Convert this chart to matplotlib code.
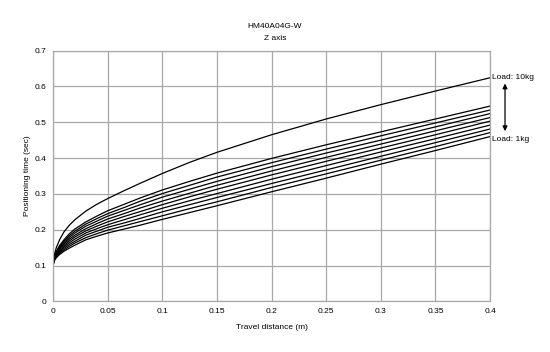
import matplotlib
matplotlib.use("Agg")
import matplotlib.pyplot as plt

plt.rcParams['font.family'] = ['Liberation Sans', 'DejaVu Sans']

# Travel distance (m)
khoang_cach = [0, 0.001, 0.003, 0.006, 0.01, 0.015, 0.02, 0.03, 0.04, 0.05,
               0.065, 0.08, 0.1, 0.125, 0.15, 0.2, 0.25, 0.3, 0.35, 0.4]

# Positioning time (sec) for each load
tai_1kg = [0.1, 0.113, 0.122, 0.131, 0.140, 0.149, 0.157, 0.172, 0.182, 0.191,
           0.202, 0.213, 0.229, 0.248, 0.267, 0.306, 0.344, 0.383, 0.421, 0.460]
tai_2kg = [0.1, 0.114, 0.124, 0.134, 0.144, 0.154, 0.163, 0.178, 0.189, 0.199,
           0.211, 0.223, 0.239, 0.259, 0.278, 0.318, 0.356, 0.394, 0.432, 0.471]
tai_3kg = [0.1, 0.116, 0.127, 0.137, 0.148, 0.159, 0.168, 0.185, 0.196, 0.207,
           0.219, 0.232, 0.250, 0.270, 0.290, 0.329, 0.367, 0.405, 0.443, 0.481]
tai_4kg = [0.1, 0.117, 0.129, 0.140, 0.152, 0.164, 0.174, 0.191, 0.203, 0.214,
           0.228, 0.242, 0.260, 0.281, 0.301, 0.341, 0.379, 0.417, 0.454, 0.492]
tai_5kg = [0.1, 0.118, 0.131, 0.144, 0.156, 0.169, 0.180, 0.197, 0.210, 0.222,
           0.237, 0.251, 0.270, 0.292, 0.313, 0.353, 0.391, 0.428, 0.465, 0.503]
tai_6kg = [0.1, 0.119, 0.133, 0.147, 0.160, 0.174, 0.185, 0.203, 0.217, 0.230,
           0.245, 0.261, 0.280, 0.302, 0.324, 0.364, 0.402, 0.439, 0.476, 0.513]
tai_7kg = [0.1, 0.121, 0.136, 0.150, 0.164, 0.179, 0.191, 0.210, 0.224, 0.238,
           0.254, 0.270, 0.291, 0.313, 0.335, 0.376, 0.414, 0.450, 0.487, 0.524]
tai_8kg = [0.1, 0.122, 0.138, 0.153, 0.168, 0.184, 0.196, 0.216, 0.231, 0.245,
           0.262, 0.280, 0.301, 0.324, 0.347, 0.387, 0.425, 0.462, 0.498, 0.534]
tai_9kg = [0.1, 0.123, 0.140, 0.156, 0.172, 0.189, 0.202, 0.222, 0.238, 0.253,
           0.271, 0.289, 0.311, 0.335, 0.358, 0.399, 0.437, 0.473, 0.509, 0.545]
tai_10kg = [0.1, 0.128, 0.150, 0.172, 0.194, 0.213, 0.228, 0.252, 0.271, 0.287,
            0.309, 0.330, 0.357, 0.388, 0.416, 0.465, 0.509, 0.549, 0.587, 0.624]

cac_duong = [tai_1kg, tai_2kg, tai_3kg, tai_4kg, tai_5kg,
             tai_6kg, tai_7kg, tai_8kg, tai_9kg, tai_10kg]

x_ticks = [0, 0.05, 0.1, 0.15, 0.2, 0.25, 0.3, 0.35, 0.4]
x_labels = ["0", "0.05", "0.1", "0.15", "0.2", "0.25", "0.3", "0.35", "0.4"]
y_ticks = [0, 0.1, 0.2, 0.3, 0.4, 0.5, 0.6, 0.7]
y_labels = ["0", "0.1", "0.2", "0.3", "0.4", "0.5", "0.6", "0.7"]

fig = plt.figure(figsize=(5.5, 3.52), dpi=100)
ax = fig.add_axes([0.0964, 0.1435, 0.7946, 0.713])

for y in cac_duong:
    ax.plot(khoang_cach, y, color="black", linewidth=0.9)

ax.set_xlim(0, 0.4)
ax.set_ylim(0, 0.7)
ax.set_xticks(x_ticks)
ax.set_xticklabels(x_labels)
ax.set_yticks(y_ticks)
ax.set_yticklabels(y_labels)
ax.tick_params(length=0, labelsize=6, pad=5)
ax.grid(True, color="#a8a8a8", linewidth=0.9)
for s in ax.spines.values():
    s.set_color("#a8a8a8")
    s.set_linewidth(0.9)

ax.set_xlabel("Travel distance (m)", fontsize=6, labelpad=6)
ax.set_ylabel("Positioning time (sec)", fontsize=6, labelpad=2)

fig.text(0.5, 0.925, "HM40A04G-W", ha="center", va="center", fontsize=6)
fig.text(0.5, 0.89, "Z axis", ha="center", va="center", fontsize=6)

# Nhãn tải và mũi tên
ax.text(0.4015, tai_10kg[-1] + 0.002, "Load: 10kg", fontsize=6,
        va="center", ha="left", clip_on=False)
ax.text(0.4015, tai_1kg[-1] - 0.008, "Load: 1kg", fontsize=6,
        va="center", ha="left", clip_on=False)
ax.annotate("", xy=(0.4137, 0.475), xytext=(0.4137, 0.608),
            arrowprops=dict(arrowstyle="<|-|>", color="black", lw=0.9,
                            mutation_scale=7, shrinkA=0, shrinkB=0),
            annotation_clip=False)

fig.savefig("out.png", dpi=100)
